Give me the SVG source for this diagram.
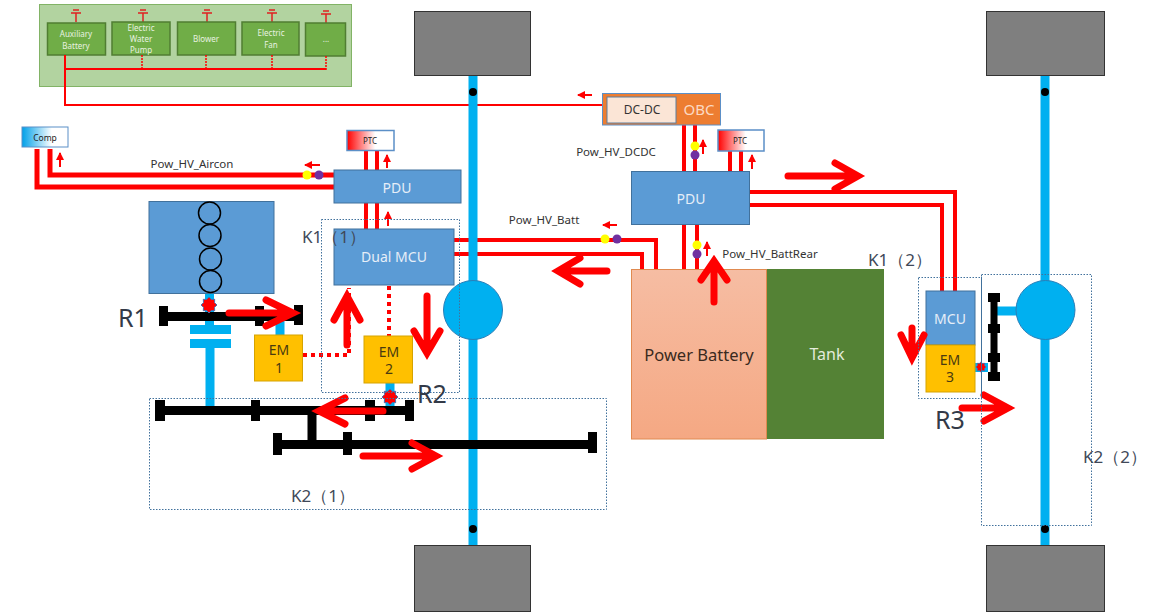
<svg xmlns="http://www.w3.org/2000/svg" width="1150" height="614" viewBox="0 0 1150 614">
<style>
text{font-family:"Noto Sans","Open Sans",sans-serif;text-anchor:middle;dominant-baseline:central}
.wh{fill:#7f7f7f;stroke:#333;stroke-width:1}
.ax{fill:#00b0f0}
.blue{fill:#5b9bd5;stroke:#41719c;stroke-width:1}
.gold{fill:#ffc000;stroke:#d6a300;stroke-width:1}
.g{fill:#70ad47;stroke:#507e32;stroke-width:1.5}
.gt{fill:#e8f2e0;font-size:8px}
.wt{fill:#e6eef8;font-size:14px}
.dk{fill:#4a3a10;font-size:14px}
.lab{fill:#333;font-size:11.500px}
.big{fill:#404858;font-size:17px}
.r{fill:#333a48;font-size:25px}
.hv{fill:none;stroke:#f00;stroke-width:5}
.thin{fill:none;stroke:#f00;stroke-width:2}
.dot{fill:none;stroke:#f00;stroke-width:1.5;stroke-dasharray:2 1}
.dot2{fill:none;stroke:#f00;stroke-width:4;stroke-dasharray:4 4}
.sa{fill:none;stroke:#f00;stroke-width:2}
.ba{fill:none;stroke:#f00;stroke-width:7;stroke-linecap:round;stroke-linejoin:miter}
.k{fill:none;stroke:#41719c;stroke-width:1;stroke-dasharray:1.5 1.5}
.bk{fill:#000}
.ptc{stroke:#5b8fc7;stroke-width:1.5;fill:url(#ptcg)}
.y{fill:#ffff00}.p{fill:#7030a0}
</style>
<defs>
<linearGradient id="ptcg"><stop offset="0" stop-color="#f00"/><stop offset=".6" stop-color="#fff"/></linearGradient>
<linearGradient id="compg"><stop offset="0" stop-color="#00a0e8"/><stop offset=".65" stop-color="#fff"/></linearGradient>
<linearGradient id="batg" x1="0" y1="0" x2="0" y2="1"><stop offset="0" stop-color="#f6bda3"/><stop offset="1" stop-color="#f5a883"/></linearGradient>
<marker id="sh" viewBox="0 0 8 8" refX="7" refY="4" markerWidth="8" markerHeight="8" markerUnits="userSpaceOnUse" orient="auto"><path d="M0 0L8 4L0 8Z" fill="#f00"/></marker>
<polygon id="star" points="0,-8 2.3,-5.5 5.7,-5.7 5.5,-2.3 8,0 5.5,2.3 5.7,5.7 2.3,5.5 0,8 -2.3,5.5 -5.7,5.7 -5.5,2.3 -8,0 -5.5,-2.3 -5.7,-5.7 -2.3,-5.5" fill="#f00" stroke="#4a6fb0" stroke-width="1"/>
<g id="batsym"><path d="M0 9V-0M-5 0H5" stroke="#e02020" stroke-width="1.5" fill="none"/><path d="M-3 -3H3" stroke="#e02020" stroke-width="1.5" fill="none"/></g>
</defs>
<rect width="1150" height="614" fill="#fff"/>

<g id="panel">
<rect x="39.500" y="4.500" width="312" height="82" fill="#b2d3a0" stroke="#82b366" stroke-width="1"/>
<use href="#batsym" x="76" y="13"/><use href="#batsym" x="143" y="13"/><use href="#batsym" x="207" y="13"/><use href="#batsym" x="272" y="13"/><use href="#batsym" x="326" y="14"/>
<g id="aux"><rect class="g" x="47.500" y="23" width="58" height="32"/><text class="gt" x="76" y="33">Auxiliary</text><text class="gt" x="76" y="45">Battery</text></g>
<g id="pump"><rect class="g" x="112" y="22" width="58" height="33"/><text class="gt" x="141" y="27">Electric</text><text class="gt" x="141" y="38">Water</text><text class="gt" x="141" y="49">Pump</text></g>
<g id="blower"><rect class="g" x="177.500" y="22" width="58" height="33"/><text class="gt" x="206" y="38">Blower</text></g>
<g id="fan"><rect class="g" x="242" y="22" width="57" height="33"/><text class="gt" x="271" y="32">Electric</text><text class="gt" x="271" y="44">Fan</text></g>
<g id="more"><rect class="g" x="305.500" y="23" width="40" height="33"/><text class="gt" x="326" y="38">...</text></g>
</g>

<g id="wheels">
<rect class="wh" x="414.500" y="11.500" width="116" height="64"/>
<rect class="wh" x="414.500" y="545.500" width="116" height="66"/>
<rect class="wh" x="986.500" y="11.500" width="118" height="64"/>
<rect class="wh" x="986.500" y="545.500" width="118" height="66"/>
</g>

<g id="connectors">
<path class="thin" d="M65 55V105H603"/>
<path class="thin" d="M66 69H326"/>
<path class="dot" d="M142 55V69M206 55V69M272 55V69M326 56V70"/>
<path class="hv" d="M37 149V187H334"/>
<path class="hv" d="M50 149V175H334"/>
<path class="hv" style="stroke-width:4" d="M366 151V170M377 151V170M366 203V229M377 203V229"/>
<path class="hv" style="stroke-width:4" d="M454 240H656V270M454 254H642V270"/>
<path class="hv" style="stroke-width:4" d="M684 125V171M695 125V171M730 151V171M741 151V171M684 225V270M697 225V270"/>
<path class="hv" style="stroke-width:4" d="M750 192H955V291M750 205H942V291"/>
<path class="dot2" d="M303 355H349V288"/>
<path class="dot2" d="M389 286V336"/>
</g>

<g id="axles">
<rect class="ax" x="468.500" y="76" width="9" height="469"/>
<rect class="ax" x="1040.500" y="76" width="9" height="469"/>
<circle class="bk" cx="473" cy="92" r="4"/><circle class="bk" cx="473" cy="529" r="4"/>
<circle class="bk" cx="1045" cy="92" r="4"/><circle class="bk" cx="1045" cy="529" r="4"/>
<rect class="ax" x="205" y="293" width="9" height="32"/>
<rect class="ax" x="190" y="325" width="41" height="9"/>
<rect class="ax" x="190" y="339" width="41" height="9"/>
<rect class="ax" x="205.500" y="348" width="9" height="58"/>
<rect class="ax" x="275.500" y="318" width="9" height="18"/>
<rect class="ax" x="385.500" y="383" width="9" height="24"/>
<rect class="ax" x="997" y="306.500" width="20" height="9"/>
<rect class="ax" x="973" y="363" width="15" height="9"/>
<circle class="ax" cx="473" cy="310" r="29.500" stroke="#2a7fb8" stroke-width="1"/>
<circle class="ax" cx="1045.500" cy="310" r="29.500" stroke="#2a7fb8" stroke-width="1"/>
</g>

<g id="gears">
<rect class="bk" x="163" y="312" width="135" height="9"/>
<rect class="bk" x="159" y="306" width="9" height="20"/><rect class="bk" x="255" y="306" width="9" height="20"/><rect class="bk" x="294" y="305" width="9" height="20"/>
<rect class="bk" x="160" y="406" width="250" height="9"/>
<rect class="bk" x="155" y="400" width="10" height="21"/><rect class="bk" x="251" y="400" width="9" height="21"/><rect class="bk" x="365" y="400" width="10" height="21"/><rect class="bk" x="405" y="400" width="9" height="21"/>
<rect class="bk" x="307.500" y="410" width="9" height="34"/>
<rect class="bk" x="278" y="440" width="315" height="9"/>
<rect class="bk" x="273" y="433" width="9" height="22"/><rect class="bk" x="343" y="432" width="9" height="23"/><rect class="bk" x="588" y="432" width="9" height="21"/>
<rect class="bk" x="990.500" y="293" width="7" height="88"/>
<rect class="bk" x="988" y="293" width="12" height="9"/><rect class="bk" x="988" y="324" width="12" height="9"/><rect class="bk" x="988" y="353" width="12" height="9"/><rect class="bk" x="988" y="372" width="12" height="9"/>
</g>

<g id="engine">
<rect class="blue" x="149" y="201.500" width="125" height="92"/>
<g fill="none" stroke="#000" stroke-width="1.500"><circle cx="209.500" cy="213" r="11"/><circle cx="210" cy="235.500" r="11"/><circle cx="210.500" cy="259" r="11"/><circle cx="210.500" cy="281.500" r="11"/></g>
</g>
<g id="comp"><rect x="22" y="127" width="46" height="20" stroke="#5b8fc7" stroke-width="1" fill="url(#compg)"/><text x="45" y="137" font-size="8.500" fill="#222">Comp</text></g>
<g id="ptc1"><rect class="ptc" x="347" y="130.500" width="47" height="20"/><text x="370" y="140" font-size="8" fill="#222">PTC</text></g>
<g id="pdu1"><rect class="blue" x="334" y="170" width="127" height="33"/><text class="wt" x="397" y="187">PDU</text></g>
<g id="dualmcu"><rect class="blue" x="334" y="229" width="120" height="56"/><text class="wt" x="394" y="256">Dual MCU</text></g>
<g id="em1"><rect class="gold" x="254.500" y="335" width="48" height="46"/><text class="dk" x="279" y="349">EM</text><text class="dk" x="279" y="367">1</text></g>
<g id="em2"><rect class="gold" x="364" y="336" width="48.500" height="47"/><text class="dk" x="389" y="351">EM</text><text class="dk" x="389" y="368">2</text></g>
<g id="battery"><rect x="631.500" y="269.500" width="135" height="169.500" fill="url(#batg)" stroke="#e08a50" stroke-width="1"/><text x="699" y="354" font-size="16.500" fill="#3a2a20">Power Battery</text></g>
<g id="tank"><rect x="767" y="269" width="117" height="170" fill="#548235"/><text x="827" y="354" font-size="16" fill="#e4ecdc">Tank</text></g>
<g id="pdu2"><rect class="blue" x="631.500" y="171.500" width="118" height="53"/><text class="wt" x="691" y="198">PDU</text></g>
<g id="obc"><rect x="602.500" y="93.500" width="118" height="31.500" fill="#ed7d31" stroke="#5b8fc7" stroke-width="1"/><rect x="607" y="97" width="69" height="26" fill="#fbe5d6" stroke="#5b7fa0" stroke-width="1"/><text x="642" y="109" font-size="12" fill="#333">DC-DC</text><text x="699" y="109" font-size="15" fill="#fbd9c2">OBC</text></g>
<g id="ptc2"><rect class="ptc" x="718" y="130" width="46" height="21"/><text x="740" y="140" font-size="8" fill="#222">PTC</text></g>
<g id="mcu"><rect class="blue" x="926" y="291" width="49" height="54"/><text class="wt" x="950" y="318">MCU</text></g>
<g id="em3"><rect class="gold" x="926" y="345" width="49" height="47"/><text class="dk" x="950" y="359">EM</text><text class="dk" x="950" y="376">3</text></g>

<g id="junctions">
<use href="#star" x="209" y="305"/><use href="#star" x="390" y="397"/><use href="#star" transform="translate(981 367) scale(.65)"/>
<circle class="y" cx="307" cy="175" r="4.500"/><circle class="p" cx="319" cy="175" r="4.500"/>
<circle class="y" cx="605" cy="239" r="4.500"/><circle class="p" cx="617" cy="239" r="4.500"/>
<circle class="y" cx="695" cy="146" r="4.500"/><circle class="p" cx="695" cy="155" r="4.500"/>
<circle class="y" cx="697" cy="245" r="4.500"/><circle class="p" cx="697" cy="254" r="4.500"/>
</g>

<g id="flow-arrows">
<path class="sa" marker-end="url(#sh)" d="M60 167V153"/>
<path class="sa" marker-end="url(#sh)" d="M320 165H305"/>
<path class="sa" marker-end="url(#sh)" d="M387 168V155"/>
<path class="sa" marker-end="url(#sh)" d="M388 226V212"/>
<path class="sa" marker-end="url(#sh)" d="M592 95H578"/>
<path class="sa" marker-end="url(#sh)" d="M617 225H603"/>
<path class="sa" marker-end="url(#sh)" d="M703 154V140"/>
<path class="sa" marker-end="url(#sh)" d="M752 169V155"/>
<path class="sa" marker-end="url(#sh)" d="M707 256V242"/>
<path class="ba" d="M229 313H290M266 300L293 313L266 326"/>
<path class="ba" d="M347 345V298M334 320L347 296L360 320"/>
<path class="ba" d="M427 296V351M414 331L427 353L440 331"/>
<path class="ba" d="M383 411H322M345 398L319 411L345 424"/>
<path class="ba" d="M363 456H433M412 443L436 456L412 469"/>
<path class="ba" d="M607 271H561M580 258L558 271L580 284"/>
<path class="ba" d="M714 302V264M701 280L714 261L727 280"/>
<path class="ba" d="M788 176H855M835 163L858 176L835 189"/>
<path class="ba" d="M912 328V355M901 335L912 358L924 335"/>
<path class="ba" d="M962 408H1005M984 395L1008 408L984 421"/>
</g>

<g id="frames">
<rect class="k" x="321.500" y="219.500" width="138" height="173"/>
<rect class="k" x="149.500" y="398.500" width="457" height="111"/>
<rect class="k" x="918.500" y="277.500" width="63" height="121"/>
<rect class="k" x="981.500" y="274.500" width="110" height="251"/>
<path d="M981.500 277V398" stroke="#41719c" stroke-width="1"/>
</g>

<g id="labels">
<text class="lab" x="192" y="163">Pow_HV_Aircon</text>
<text class="lab" x="616" y="151">Pow_HV_DCDC</text>
<text class="lab" x="544" y="219">Pow_HV_Batt</text>
<text class="lab" x="770" y="253">Pow_HV_BattRear</text>
<text class="big" x="334" y="236">K1（1）</text>
<text class="big" x="323" y="495">K2（1）</text>
<text class="big" x="900" y="259">K1（2）</text>
<text class="big" x="1115" y="456">K2（2）</text>
<text class="r" x="133" y="317">R1</text>
<text class="r" x="432" y="393">R2</text>
<text class="r" x="950" y="419">R3</text>
</g>
</svg>
